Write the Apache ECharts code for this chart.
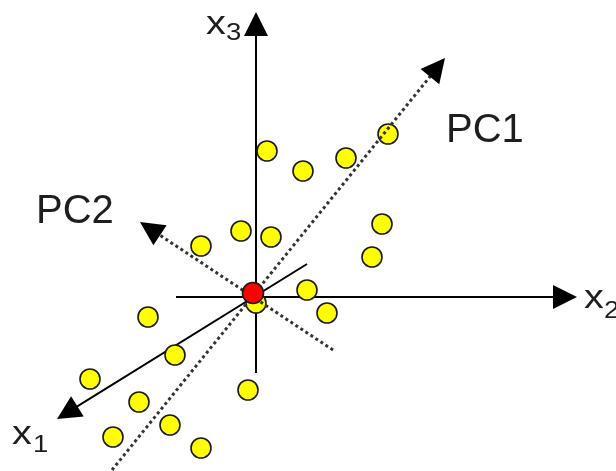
<!DOCTYPE html>
<html>
<head>
<meta charset="utf-8">
<script src="https://cdn.jsdelivr.net/npm/echarts@6/dist/echarts.min.js"></script>
<style>
  html, body { margin: 0; padding: 0; background: #ffffff; }
  #chart { width: 616px; height: 471px; }
</style>
</head>
<body>
<div id="chart"></div>
<script>
// Observations projected on the drawing plane (origin at the axes' crossing)
const obsX = [13.2, 9.0, 1.1, 4.7, -1.5, 1.5, 12.6, 11.6, -5.5, 5.1, 7.1, 0.0, -10.8, -8.1, -16.6, -0.8, -11.7, -8.6, -14.3, -5.5];
const obsY = [16.3, 13.9, 14.6, 12.6, 6.6, 6.0, 7.3, 4.0, 5.1, 0.7, -1.6, -0.6, -2.0, -5.8, -8.2, -9.3, -10.5, -12.8, -14.0, -15.1];
const meanPoint = [-0.3, 0.4];

// Original coordinate axes: start point and arrow tip
const axisNames = ['x1', 'x2', 'x3'];
const axisStart = [[5.1, 3.3], [-8.0, 0], [0, -7.6]];
const axisTip = [[-19.9, -12.2], [32.1, 0], [0, 28.5]];

// Principal component directions: start point and arrow tip
const pcNames = ['PC1', 'PC2'];
const pcStart = [[-14.4, -17.3], [7.7, -5.3]];
const pcTip = [[18.9, 23.9], [-11.6, 7.5]];

const X_RANGE = [-25.6, 36.0];
const Y_RANGE = [-17.4, 29.7];
const ARROW = 24;           // arrow head size in px
const PX_PER_UNIT = 10;     // 616 px / 61.6 units, 471 px / 47.1 units

// The end symbol is centred on the line end, so pull the end back by half a head
function toArrowEnd(a, b) {
  const dx = b[0] - a[0], dy = b[1] - a[1];
  const len = Math.hypot(dx, dy);
  const back = ARROW / 2 / PX_PER_UNIT;
  return [b[0] - dx / len * back, b[1] - dy / len * back];
}
// A short solid stub hidden under the head, used to draw a black head on a dotted line
function headStub(a, b) {
  const end = toArrowEnd(a, b);
  const dx = b[0] - a[0], dy = b[1] - a[1];
  const len = Math.hypot(dx, dy);
  const back = 0.6;
  return [[end[0] - dx / len * back, end[1] - dy / len * back], end];
}

const axisLines = axisNames.map((n, i) => ({ name: n, coords: [axisStart[i], toArrowEnd(axisStart[i], axisTip[i])] }));
const pcLines = pcNames.map((n, i) => ({ name: n, coords: [pcStart[i], toArrowEnd(pcStart[i], pcTip[i])] }));
const pcHeads = pcNames.map((n, i) => ({ name: n, coords: headStub(pcStart[i], pcTip[i]) }));
const observations = obsX.map((x, i) => [x, obsY[i]]);

const TEXT_COLOR = '#1e1e1e';
const FONT = '"Liberation Sans", Arial, sans-serif';

function txt(text, x, y, size) {
  return {
    type: 'text', x: x, y: y, scaleX: 1.2, z: 100,
    style: { text: text, font: size + 'px ' + FONT, fill: TEXT_COLOR, textAlign: 'left', textVerticalAlign: 'middle' }
  };
}
function bigTxt(text, x, y) {
  return {
    type: 'text', x: x, y: y, z: 100,
    style: { text: text, font: '40px ' + FONT, fill: TEXT_COLOR, textAlign: 'left', textVerticalAlign: 'middle' }
  };
}

const chart = echarts.init(document.getElementById('chart'), null, { renderer: 'canvas' });
chart.setOption({
  backgroundColor: '#ffffff',
  animation: false,
  grid: { left: 0, right: 0, top: 0, bottom: 0 },
  xAxis: { type: 'value', min: X_RANGE[0], max: X_RANGE[1], show: false },
  yAxis: { type: 'value', min: Y_RANGE[0], max: Y_RANGE[1], show: false },
  series: [
    {
      name: 'axes',
      type: 'lines',
      coordinateSystem: 'cartesian2d',
      z: 1,
      symbol: ['none', 'triangle'],
      symbolSize: ARROW,
      lineStyle: { color: '#000000', width: 2, opacity: 1, type: 'solid' },
      data: axisLines
    },
    {
      name: 'observations',
      type: 'scatter',
      z: 2,
      symbol: 'circle',
      symbolSize: 20,
      itemStyle: { color: '#ffff00', borderColor: '#1a1a1a', borderWidth: 1.6, opacity: 1 },
      data: observations
    },
    {
      name: 'principal components',
      type: 'lines',
      coordinateSystem: 'cartesian2d',
      z: 3,
      symbol: 'none',
      lineStyle: { color: '#333333', width: 3, opacity: 1, type: [3, 3], cap: 'butt' },
      data: pcLines
    },
    {
      name: 'principal component heads',
      type: 'lines',
      coordinateSystem: 'cartesian2d',
      z: 3,
      symbol: ['none', 'triangle'],
      symbolSize: ARROW,
      lineStyle: { color: '#000000', width: 2, opacity: 1, type: 'solid' },
      data: pcHeads
    },
    {
      name: 'mean',
      type: 'scatter',
      z: 4,
      symbol: 'circle',
      symbolSize: 21,
      itemStyle: { color: '#ff0000', borderColor: '#1a1a1a', borderWidth: 1.6, opacity: 1 },
      data: [meanPoint]
    }
  ],
  graphic: [
    txt('x', 206, 25, 33), txt('3', 226, 34, 23),
    txt('x', 584, 299, 33), txt('2', 604, 312, 23),
    txt('x', 12, 435, 33), txt('1', 33, 446, 23),
    bigTxt('PC1', 446, 131),
    bigTxt('PC2', 36, 212)
  ]
});
</script>
</body>
</html>
